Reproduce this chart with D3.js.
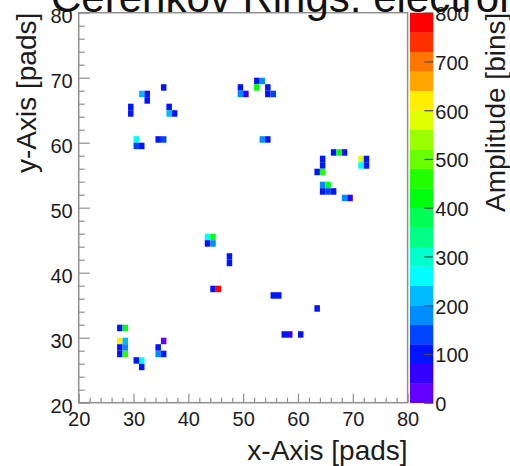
<!DOCTYPE html>
<html>
<head>
<meta charset="utf-8">
<script src="https://cdn.jsdelivr.net/npm/d3@7"></script>
<style>
  body { margin: 0; background: #fff; }
  svg { display: block; font-family: "Liberation Sans", Arial, Helvetica, sans-serif; }
</style>
</head>
<body>
<svg id="chart" width="510" height="466"></svg>
<script>
// Pad hits: column (x pad), row (y pad) and amplitude of each fired pad
const padX = [35, 31, 32, 32, 29, 29, 36, 36, 37, 30, 30, 31, 34, 35,
              49, 49, 50, 52, 53, 52, 54, 54, 55, 53, 54,
              66, 67, 68, 64, 64, 63, 64, 71, 71, 72, 72, 64, 65, 64, 65, 66, 68, 69,
              43, 44, 43, 44, 47, 47, 44, 45, 55, 56, 63, 57, 58, 60,
              27, 28, 27, 28, 27, 28, 27, 28, 30, 31, 31, 35, 34, 34, 35];
const padY = [68, 67, 67, 66, 65, 64, 65, 64, 64, 60, 59, 59, 60, 60,
              68, 67, 67, 69, 69, 68, 68, 67, 67, 60, 60,
              58, 58, 58, 57, 56, 55, 55, 57, 56, 57, 56, 53, 53, 52, 52, 52, 51, 51,
              45, 45, 44, 44, 42, 41, 37, 37, 36, 36, 34, 30, 30, 30,
              31, 31, 29, 29, 28, 28, 27, 27, 26, 26, 25, 29, 28, 27, 27];
const amplitude = [100, 230, 100, 110, 100, 100, 100, 200, 100, 260, 150, 100, 100, 140,
                   100, 190, 70, 110, 170, 420, 100, 100, 150, 170, 100,
                   100, 420, 100, 100, 100, 110, 450, 580, 260, 100, 100, 180, 430, 100, 120, 100, 170, 70,
                   270, 420, 100, 180, 100, 100, 100, 780, 100, 100, 100, 100, 70, 100,
                   110, 430, 610, 220, 100, 190, 100, 440, 100, 260, 100, 30, 100, 180, 100];

const axisTicks = [20, 30, 40, 50, 60, 70, 80];
const zTicks = [0, 100, 200, 300, 400, 500, 600, 700, 800];
const chartTitle = "Cerenkov Rings: electrons";
const xTitle = "x-Axis [pads]";
const yTitle = "y-Axis [pads]";
const zTitle = "Amplitude [bins]";

const hits = padX.map((px, i) => ({ x: px, y: padY[i], v: amplitude[i] }));

const svg = d3.select("#chart");
const plotLeft = 78.7, plotRight = 407.6, plotTop = 12.7, plotBottom = 402.7;
const frameColor = "#8f8f8f", textColor = "#1c1c1c";

const x = d3.scaleLinear().domain([20, 80]).range([plotLeft, plotRight]);
const y = d3.scaleLinear().domain([20, 80]).range([plotBottom, plotTop]);
const z = d3.scaleLinear().domain([0, 800]).range([plotBottom, plotTop]);

// 20 contour levels, coloured with the classic violet-to-red pretty palette
const nLevels = 20, nColors = 50;
function levelColor(k) {
  const p = Math.floor((k + 0.99) * nColors / nLevels);
  if (p >= nColors - 1) return "rgb(255,0,0)";
  return d3.hsl(280 - 5.6 * (p + 1), 1, 0.5).formatRgb();
}
const levelOf = v => Math.max(0, Math.min(nLevels - 1, Math.floor(v / (800 / nLevels))));

// Cells
svg.append("g").selectAll("rect").data(hits).join("rect")
  .attr("x", d => x(d.x))
  .attr("y", d => y(d.y + 1))
  .attr("width", d => x(d.x + 1) - x(d.x))
  .attr("height", d => y(d.y) - y(d.y + 1))
  .attr("fill", d => levelColor(levelOf(d.v)));

// Frame
svg.append("rect")
  .attr("x", plotLeft).attr("y", plotTop)
  .attr("width", plotRight - plotLeft).attr("height", plotBottom - plotTop)
  .attr("fill", "none").attr("stroke", frameColor).attr("stroke-width", 1.5);

const minor = d3.range(20, 80, 2).filter(v => v % 10 !== 0);

function styleAxis(g) {
  g.select(".domain").remove();
  g.selectAll("line").attr("stroke", frameColor).attr("stroke-width", 1.2);
  g.selectAll("text").attr("fill", textColor).attr("font-size", 20)
    .attr("font-family", "Liberation Sans, Arial, sans-serif");
}

// Y axis
svg.append("g").attr("transform", `translate(${plotLeft},0)`)
  .call(d3.axisLeft(y).tickValues(axisTicks).tickSizeInner(-11).tickSizeOuter(0).tickPadding(6))
  .call(styleAxis)
  .call(g => g.selectAll("text").attr("dy", "0.47em"));
svg.append("g").attr("transform", `translate(${plotLeft},0)`)
  .call(d3.axisLeft(y).tickValues(minor).tickSizeInner(-6).tickSizeOuter(0).tickFormat(""))
  .call(styleAxis);

// X axis
svg.append("g").attr("transform", `translate(0,${plotBottom})`)
  .call(d3.axisBottom(x).tickValues(axisTicks).tickSizeInner(-9).tickSizeOuter(0).tickPadding(9))
  .call(styleAxis);
svg.append("g").attr("transform", `translate(0,${plotBottom})`)
  .call(d3.axisBottom(x).tickValues(minor).tickSizeInner(-5).tickSizeOuter(0).tickFormat(""))
  .call(styleAxis);

// Colour palette
const barLeft = 410, barRight = 433.3;
svg.append("g").selectAll("rect").data(d3.range(nLevels)).join("rect")
  .attr("x", barLeft)
  .attr("y", k => z((k + 1) * 800 / nLevels))
  .attr("width", barRight - barLeft)
  .attr("height", k => z(k * 800 / nLevels) - z((k + 1) * 800 / nLevels) + 0.3)
  .attr("fill", k => levelColor(k));

svg.append("g").attr("transform", `translate(${barRight},0)`)
  .call(d3.axisRight(z).tickValues(zTicks).tickSizeInner(-9).tickSizeOuter(0).tickPadding(2))
  .call(styleAxis)
  .call(g => g.selectAll("line").attr("stroke", "#4a4a4a").attr("stroke-width", 1.2))
  .call(g => g.selectAll("text").attr("dy", "0.4em"));

// Titles
svg.append("text")
  .attr("x", 51).attr("y", 12)
  .attr("font-size", 42).attr("fill", "#111")
  .text(chartTitle);

svg.append("text")
  .attr("x", plotRight).attr("y", 460)
  .attr("text-anchor", "end")
  .attr("font-size", 28).attr("fill", textColor)
  .text(xTitle);

svg.append("text")
  .attr("transform", `translate(36,${plotTop}) rotate(-90)`)
  .attr("text-anchor", "end")
  .attr("font-size", 28).attr("fill", textColor)
  .text(yTitle);

svg.append("text")
  .attr("transform", `translate(505,${plotTop}) rotate(-90)`)
  .attr("text-anchor", "end")
  .attr("font-size", 28).attr("fill", textColor)
  .text(zTitle);
</script>
</body>
</html>
